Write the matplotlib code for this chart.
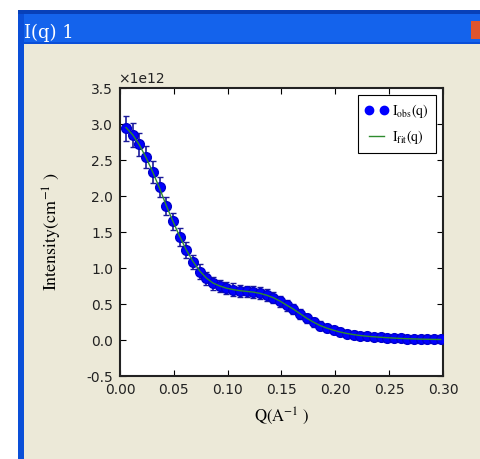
import matplotlib
matplotlib.use("Agg")
import matplotlib.pyplot as plt
from matplotlib.patches import Rectangle
from matplotlib.lines import Line2D
from matplotlib.ticker import FormatStrFormatter

# data (intensity in units of 1e12)
q = [0.0056, 0.0118, 0.0180, 0.0243, 0.0305, 0.0367, 0.0429, 0.0491,
     0.0554, 0.0616, 0.0678, 0.0740, 0.0802, 0.0865, 0.0927, 0.0989,
     0.1051, 0.1113, 0.1176, 0.1238, 0.1300, 0.1362, 0.1424, 0.1487,
     0.1549, 0.1611, 0.1673, 0.1735, 0.1798, 0.1860, 0.1922, 0.1984,
     0.2046, 0.2109, 0.2171, 0.2233, 0.2295, 0.2357, 0.2420, 0.2482,
     0.2544, 0.2606, 0.2668, 0.2731, 0.2793, 0.2855, 0.2917, 0.2979]
i_obs = [2.94, 2.85, 2.72, 2.54, 2.33, 2.12, 1.86, 1.65,
         1.43, 1.25, 1.08, 0.95, 0.86, 0.79, 0.75, 0.72,
         0.70, 0.685, 0.675, 0.665, 0.65, 0.625, 0.59, 0.54,
         0.48, 0.43, 0.365, 0.30, 0.245, 0.20, 0.165, 0.135,
         0.11, 0.09, 0.075, 0.062, 0.052, 0.045, 0.038, 0.032,
         0.027, 0.022, 0.018, 0.015, 0.012, 0.010, 0.008, 0.007]
i_err = [0.17, 0.17, 0.16, 0.15, 0.15, 0.14, 0.13, 0.12,
         0.12, 0.11, 0.10, 0.10, 0.09, 0.09, 0.085, 0.085,
         0.085, 0.085, 0.08, 0.08, 0.08, 0.08, 0.08, 0.075,
         0.075, 0.07, 0.07, 0.065, 0.06, 0.06, 0.055, 0.05,
         0.05, 0.045, 0.045, 0.04, 0.04, 0.04, 0.035, 0.035,
         0.035, 0.035, 0.03, 0.03, 0.03, 0.03, 0.03, 0.03]
i_fit = [2.95, 2.85, 2.71, 2.53, 2.33, 2.11, 1.87, 1.65,
         1.44, 1.25, 1.09, 0.96, 0.86, 0.79, 0.75, 0.72,
         0.70, 0.685, 0.675, 0.665, 0.648, 0.622, 0.588, 0.54,
         0.483, 0.428, 0.365, 0.302, 0.247, 0.20, 0.165, 0.135,
         0.11, 0.09, 0.075, 0.062, 0.052, 0.045, 0.038, 0.032,
         0.027, 0.022, 0.018, 0.015, 0.012, 0.010, 0.008, 0.007]
x_ticks = [0.0, 0.05, 0.10, 0.15, 0.20, 0.25, 0.30]
y_ticks = [-0.5, 0.0, 0.5, 1.0, 1.5, 2.0, 2.5, 3.0, 3.5]

W, H = 481, 459
plt.rcParams['mathtext.fontset'] = 'stix'
plt.rcParams['axes.unicode_minus'] = False
fig = plt.figure(figsize=(W / 100, H / 100), dpi=100)
fig.patch.set_facecolor('white')


def px_rect(x0, y0, x1, y1, color):
    # rectangle in screen pixels (top-left origin)
    fig.add_artist(Rectangle((x0 / W, 1 - y1 / H), (x1 - x0) / W, (y1 - y0) / H,
                             transform=fig.transFigure, facecolor=color,
                             edgecolor='none', zorder=0))


# window chrome
px_rect(18, 10, W, H, '#0a4fd8')
px_rect(18, 10, W, 14, '#0840b8')
px_rect(24, 14, W, 42, '#1463ec')
px_rect(24, 44, W, H, '#ece9d8')
px_rect(471, 21, W, 39, '#e0552e')
fig.text(24 / W, 1 - 38 / H, 'I(q) 1', color='white', fontsize=13,
         family='DejaVu Serif', ha='left', va='baseline')

ax = fig.add_axes([120 / W, 1 - 376 / H, 323 / W, 288 / H])
ax.set_facecolor('white')

# values are plotted in units of 1e12, the offset label is drawn by hand
_, caps, bars = ax.errorbar(q, i_obs, yerr=i_err, fmt='none', ecolor='#1a1a9a',
                            elinewidth=1.2, capsize=2.5, capthick=1, zorder=2)
for c in caps:
    c.set_color('#8c8cf0')
ax.plot(q, i_obs, 'o', color='#0000ff', markersize=7, markeredgecolor='#0000cc',
        zorder=3)
ax.plot(q, i_fit, '-', color='#2e8b2e', linewidth=1, zorder=4)

ax.set_xlim(0, 0.30)
ax.set_ylim(-0.5, 3.5)
ax.set_xticks(x_ticks)
ax.set_yticks(y_ticks)
ax.xaxis.set_major_formatter(FormatStrFormatter('%.2f'))
ax.yaxis.set_major_formatter(FormatStrFormatter('%.1f'))
ax.text(-0.005, 1.008, '\u00d71e12', transform=ax.transAxes, fontsize=10,
        color='#222222', ha='left', va='bottom')
ax.tick_params(direction='in', top=True, right=True, labelsize=10,
               labelcolor='#222222', length=4, width=0.8, pad=5)
for s in ax.spines.values():
    s.set_linewidth(1.5)
    s.set_color('#222222')

ax.set_xlabel(r'$\mathrm{Q(A^{-1}\ )}$', fontsize=12, labelpad=6)
ax.set_ylabel(r'$\mathrm{Intensity(cm^{-1}\ )}$', fontsize=13, labelpad=16)

h_obs = Line2D([], [], linestyle='none', marker='o', color='#0000ff',
               markersize=6)
h_fit = Line2D([], [], color='#2e8b2e', linewidth=1)
leg = ax.legend([h_obs, h_fit], [r'$\mathrm{I_{obs}(q)}$', r'$\mathrm{I_{fit}(q)}$'],
                loc='upper right', numpoints=2, fontsize=10, fancybox=False,
                framealpha=1, edgecolor='black', labelspacing=0.6,
                handlelength=1.7, handletextpad=0.3, borderpad=0.5,
                borderaxespad=0.5)
leg.get_frame().set_linewidth(0.8)

fig.savefig('out.png', dpi=100, facecolor=fig.get_facecolor())
